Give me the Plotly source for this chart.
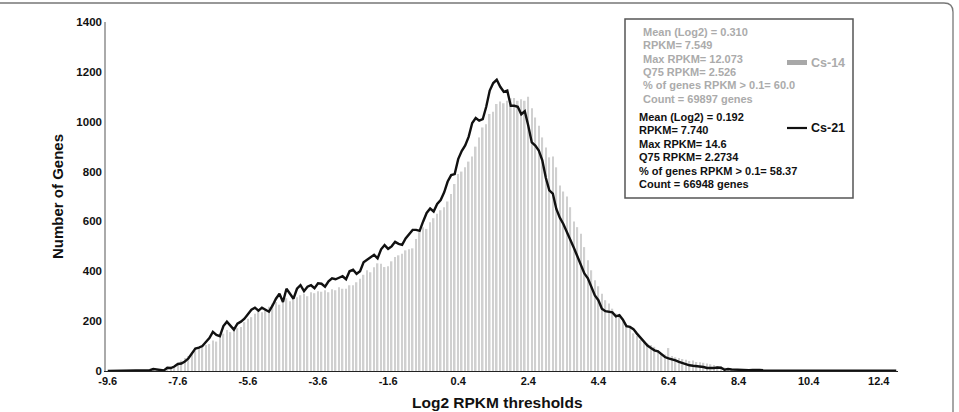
import plotly.graph_objects as go

# Bins of Log2 RPKM (0.1 wide), from -9.6 to 12.9
thresholds = [round(-9.6 + 0.1 * i, 1) for i in range(226)]

cs14_counts = [
    0, 0, 0, 0, 0, 0, 0, 0, 0, 0, 0, 1, 0, 1, 2, 3,
    6, 10, 14, 20,
    30, 42, 52, 60, 72, 80, 92, 98, 104, 108,
    122, 118, 140, 150, 164, 156, 170, 172, 177, 196,
    210, 216, 230, 244, 236, 250, 258, 270, 277, 266,
    286, 292, 280, 300, 296, 304, 310, 300, 316, 312,
    320, 318, 324, 316, 328, 324, 336, 330, 330, 344,
    344, 356, 370, 386, 404, 396, 416, 432, 430, 417,
    420, 440, 457, 464, 470, 484, 488, 492, 530, 557,
    577, 570, 597, 613, 631, 645, 657, 680, 710, 750,
    790, 800, 817, 840, 860, 900, 937, 977, 990, 1031,
    1040, 1071, 1081, 1074, 1084, 1094, 1095, 1084, 1090, 1084,
    1100, 1054, 1017, 984, 937, 897, 857, 860, 817, 744,
    720, 700, 657, 600, 577, 551, 497, 444, 404, 364,
    340, 310, 284, 271, 250, 231, 217, 204, 177, 172,
    151, 140, 124, 118, 111, 104, 97, 84, 71, 66,
    92, 60, 55, 52, 48, 45, 40, 42, 36, 35,
    33, 30, 27, 24, 20, 18, 14, 10, 9, 8,
    7, 6, 6, 5, 5, 4, 4, 4, 3, 3,
    3, 2, 2, 2, 1, 2, 1, 1, 1, 0,
    1, 1, 0, 1, 0, 0, 1, 0, 0, 1,
    0, 0, 1, 0, 0, 0, 0, 1, 0, 0,
    0, 0, 0, 0, 0, 0,
]

cs21_counts = [
    0, 0, 0, 0, 0, 0, 0, 1, 1, 1, 2, 2, 3,
    8, 5, 3, 2, 13, 12, 18,
    28, 30, 38, 50, 68, 90, 94, 100, 116, 132,
    157, 145, 140, 180, 198, 180, 166, 190, 198, 210,
    228, 246, 254, 242, 254, 246, 238, 262, 290, 310,
    277, 330, 310, 290, 330, 344, 320, 338, 344, 332,
    352, 350, 338, 360, 372, 368, 374, 380, 368, 400,
    406, 390, 400, 436, 446, 456, 466, 452, 488, 505,
    490, 500, 518, 510, 506, 532, 550, 566, 566, 562,
    600, 634, 652, 640, 670, 686, 717, 760, 786, 790,
    850, 882, 905, 940, 995, 1015, 1004, 1010, 1060, 1125,
    1155, 1168, 1140, 1120, 1125, 1064, 1064, 1060, 1030, 1042,
    984, 917, 904, 884, 845, 775, 725, 712, 650, 615,
    590, 560, 527, 494, 460, 425, 391, 372, 340, 303,
    284, 250, 240, 237, 235, 219, 224, 206, 180, 177,
    168, 150, 135, 118, 102, 92, 83, 79, 68, 56,
    51, 48, 43, 37, 32, 28, 23, 21, 20, 18,
    16, 12, 11, 12, 14, 13, 5, 8, 6, 5,
    5, 4, 4, 3, 4, 5, 4, 3, 3, 2,
    2, 2, 3, 2, 2, 1, 1, 2, 2, 1,
    1, 1, 2, 1, 1, 0, 1, 1, 2, 1,
    1, 0, 1, 1, 0, 1, 1, 0, 1, 1,
    0, 1, 1, 0, 1, 1,
]

tick_labels = ["-9.6", "-7.6", "-5.6", "-3.6", "-1.6", "0.4", "2.4",
               "4.4", "6.4", "8.4", "10.4", "12.4"]
y_ticks = [0, 200, 400, 600, 800, 1000, 1200, 1400]

cs14_stats = ["Mean (Log2) = 0.310", "RPKM= 7.549", "Max RPKM= 12.073",
              "Q75 RPKM= 2.526", "% of genes RPKM > 0.1= 60.0",
              "Count = 69897 genes"]
cs21_stats = ["Mean (Log2) = 0.192", "RPKM= 7.740", "Max RPKM= 14.6",
              "Q75 RPKM= 2.2734", "% of genes RPKM > 0.1= 58.37",
              "Count = 66948 genes"]

W, H = 959, 412
PL, PR, PT, PB = 106, 898, 22, 371


def px(x):
    return (x - PL) / (PR - PL)


def py(y):
    return (PB - y) / (PB - PT)


FONT = "Liberation Sans, Arial, sans-serif"
GREY_TXT = "#ababab"

fig = go.Figure()
fig.add_trace(go.Bar(x=thresholds, y=cs14_counts, name="Cs-14",
                     marker=dict(color="#d0d0d0", line=dict(width=0)),
                     showlegend=False))
fig.add_trace(go.Scatter(x=thresholds, y=cs21_counts, name="Cs-21",
                         mode="lines", line=dict(color="#111111", width=2.4),
                         showlegend=False))

annotations = []
for k, t in enumerate(cs14_stats):
    annotations.append(dict(text="<b>%s</b>" % t, x=px(641), y=py(31.7 + k * 13.45),
                            xref="paper", yref="paper", xanchor="left", yanchor="middle",
                            showarrow=False, font=dict(family=FONT, size=11, color=GREY_TXT)))
for k, t in enumerate(cs21_stats):
    annotations.append(dict(text="<b>%s</b>" % t, x=px(637), y=py(116.7 + k * 13.5),
                            xref="paper", yref="paper", xanchor="left", yanchor="middle",
                            showarrow=False, font=dict(family=FONT, size=11, color="#111111")))
annotations.append(dict(text="<b>Cs-14</b>", x=px(809), y=py(62.5), xref="paper", yref="paper",
                        xanchor="left", yanchor="middle", showarrow=False,
                        font=dict(family=FONT, size=12.5, color=GREY_TXT)))
annotations.append(dict(text="<b>Cs-21</b>", x=px(809), y=py(128), xref="paper", yref="paper",
                        xanchor="left", yanchor="middle", showarrow=False,
                        font=dict(family=FONT, size=12.5, color="#111111")))
annotations.append(dict(text="<b>Number of Genes</b>", x=px(57), y=py(197), xref="paper",
                        yref="paper", xanchor="center", yanchor="middle", textangle=-90,
                        showarrow=False, font=dict(family=FONT, size=15, color="#111111")))
annotations.append(dict(text="<b>Log2 RPKM thresholds</b>", x=px(497), y=py(402), xref="paper",
                        yref="paper", xanchor="center", yanchor="middle",
                        showarrow=False, font=dict(family=FONT, size=15.5, color="#111111")))

shapes = [
    # legend box
    dict(type="rect", xref="paper", yref="paper", x0=px(625), x1=px(853), y0=py(198), y1=py(19),
         line=dict(color="#555555", width=1.5), fillcolor="white", layer="above"),
    # legend symbols
    dict(type="rect", xref="paper", yref="paper", x0=px(787), x1=px(807), y0=py(65), y1=py(60),
         line=dict(width=0), fillcolor="#a8a8a8", layer="above"),
    dict(type="line", xref="paper", yref="paper", x0=px(787), x1=px(807), y0=py(128), y1=py(128),
         line=dict(color="#111111", width=2.2), layer="above"),
    # outer panel border with rounded top-right corner
    dict(type="path", xref="paper", yref="paper",
         path="M %f,%f L %f,%f Q %f,%f %f,%f L %f,%f" % (
             px(-2), py(3), px(944), py(3), px(953), py(3), px(953), py(12), px(953), py(420)),
         line=dict(color="#777777", width=1.3)),
]

fig.update_layout(
    width=W, height=H,
    margin=dict(l=PL, r=W - PR, t=PT, b=H - PB, pad=0),
    paper_bgcolor="white", plot_bgcolor="white",
    bargap=0.55,
    annotations=annotations, shapes=shapes,
    xaxis=dict(range=[-9.65, 12.95], tickvals=[float(t) for t in tick_labels],
               ticktext=["<b>%s</b>" % t for t in tick_labels],
               showgrid=False, zeroline=False, showline=True, linecolor="#222222", linewidth=1.2,
               ticks="", tickfont=dict(family=FONT, size=11, color="#111111")),
    yaxis=dict(range=[0, 1400], tickvals=y_ticks, ticktext=["<b>%d</b>" % v for v in y_ticks],
               showgrid=False, zeroline=False, showline=True, linecolor="#aaaaaa", linewidth=1.5,
               ticks="", ticklen=0, tickfont=dict(family=FONT, size=11.5, color="#111111")),
    font=dict(family=FONT),
)

fig.write_html("out.html")
